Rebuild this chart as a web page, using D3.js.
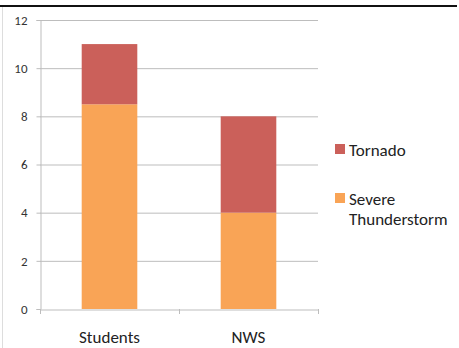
<!DOCTYPE html>
<html>
<head>
<meta charset="utf-8">
<script src="https://cdn.jsdelivr.net/npm/d3@7"></script>
<style>
  body { margin: 0; background: #fff; }
  text { font-family: Carlito, Calibri, "Open Sans", sans-serif; }
</style>
</head>
<body>
<svg width="459" height="348"></svg>
<script>
var categories = ["Students", "NWS"];
var seriesNames = ["Severe Thunderstorm", "Tornado"];
var severe = [8.5, 4];
var tornado = [2.5, 4];
var yTicks = [0, 2, 4, 6, 8, 10, 12];
var colors = ["#F9A456", "#CB605A"];

var svg = d3.select("svg");

// frame lines of the screenshot
svg.append("line").attr("x1", 0).attr("x2", 457).attr("y1", 6).attr("y2", 6)
  .style("stroke", "#111").style("stroke-width", 2);
svg.append("line").attr("x1", 2.5).attr("x2", 2.5).attr("y1", 7).attr("y2", 348)
  .style("stroke", "#ddd");

var rows = categories.map(function(c, i) {
  return { cat: c, "Severe Thunderstorm": severe[i], "Tornado": tornado[i] };
});
var stacked = d3.stack().keys(seriesNames)(rows);

var x = d3.scaleBand().domain(categories).range([40, 318]).paddingInner(0.6).paddingOuter(0.3);
var y = d3.scaleLinear().domain([0, 12]).range([309, 20]);

// gridlines
svg.append("g").selectAll("line").data(yTicks.filter(function(d){ return d > 0; }))
  .enter().append("line")
  .attr("x1", 40).attr("x2", 318)
  .attr("y1", function(d){ return y(d) + 0.5; }).attr("y2", function(d){ return y(d) + 0.5; })
  .style("stroke", "#bdbdbd");

// y axis
var yAxis = svg.append("g").attr("transform", "translate(40.5,0)")
  .call(d3.axisLeft(y).tickValues(yTicks).tickSize(4).tickPadding(9));
yAxis.select(".domain").style("stroke", "#bdbdbd");
yAxis.selectAll(".tick line").style("stroke", "#bdbdbd");
yAxis.selectAll(".tick text").style("font-size", "13px").style("fill", "#333");

// bars
svg.append("g").selectAll("g").data(stacked).enter().append("g")
  .style("fill", function(d, i){ return colors[i]; })
  .selectAll("rect").data(function(d){ return d; }).enter().append("rect")
  .attr("x", function(d){ return x(d.data.cat); })
  .attr("width", x.bandwidth())
  .attr("y", function(d){ return y(d[1]); })
  .attr("height", function(d){ return y(d[0]) - y(d[1]); });

// x axis
var xAxis = svg.append("g").attr("transform", "translate(0,309.5)")
  .call(d3.axisBottom(x).tickSize(0).tickPadding(21));
xAxis.select(".domain").style("stroke", "#bdbdbd");
xAxis.selectAll(".tick text").style("font-size", "17px").style("fill", "#222");
svg.append("g").selectAll("line").data([40, 179, 318]).enter().append("line")
  .attr("x1", function(d){ return d + 0.5; }).attr("x2", function(d){ return d + 0.5; })
  .attr("y1", 309).attr("y2", 314).style("stroke", "#bdbdbd");

// legend
var legend = [
  { name: ["Tornado"], color: colors[1], y: 144 },
  { name: ["Severe", "Thunderstorm"], color: colors[0], y: 193 }
];
var lg = svg.append("g").selectAll("g").data(legend).enter().append("g");
lg.append("rect").attr("x", 335).attr("y", function(d){ return d.y; })
  .attr("width", 10).attr("height", 10).style("fill", function(d){ return d.color; });
lg.append("text").attr("x", 349).attr("y", function(d){ return d.y + 12; })
  .style("font-size", "17px").style("fill", "#222")
  .selectAll("tspan").data(function(d){ return d.name; }).enter().append("tspan")
  .attr("x", 349).attr("dy", function(d, i){ return i ? 20 : 0; })
  .text(function(d){ return d; });
</script>
</body>
</html>
